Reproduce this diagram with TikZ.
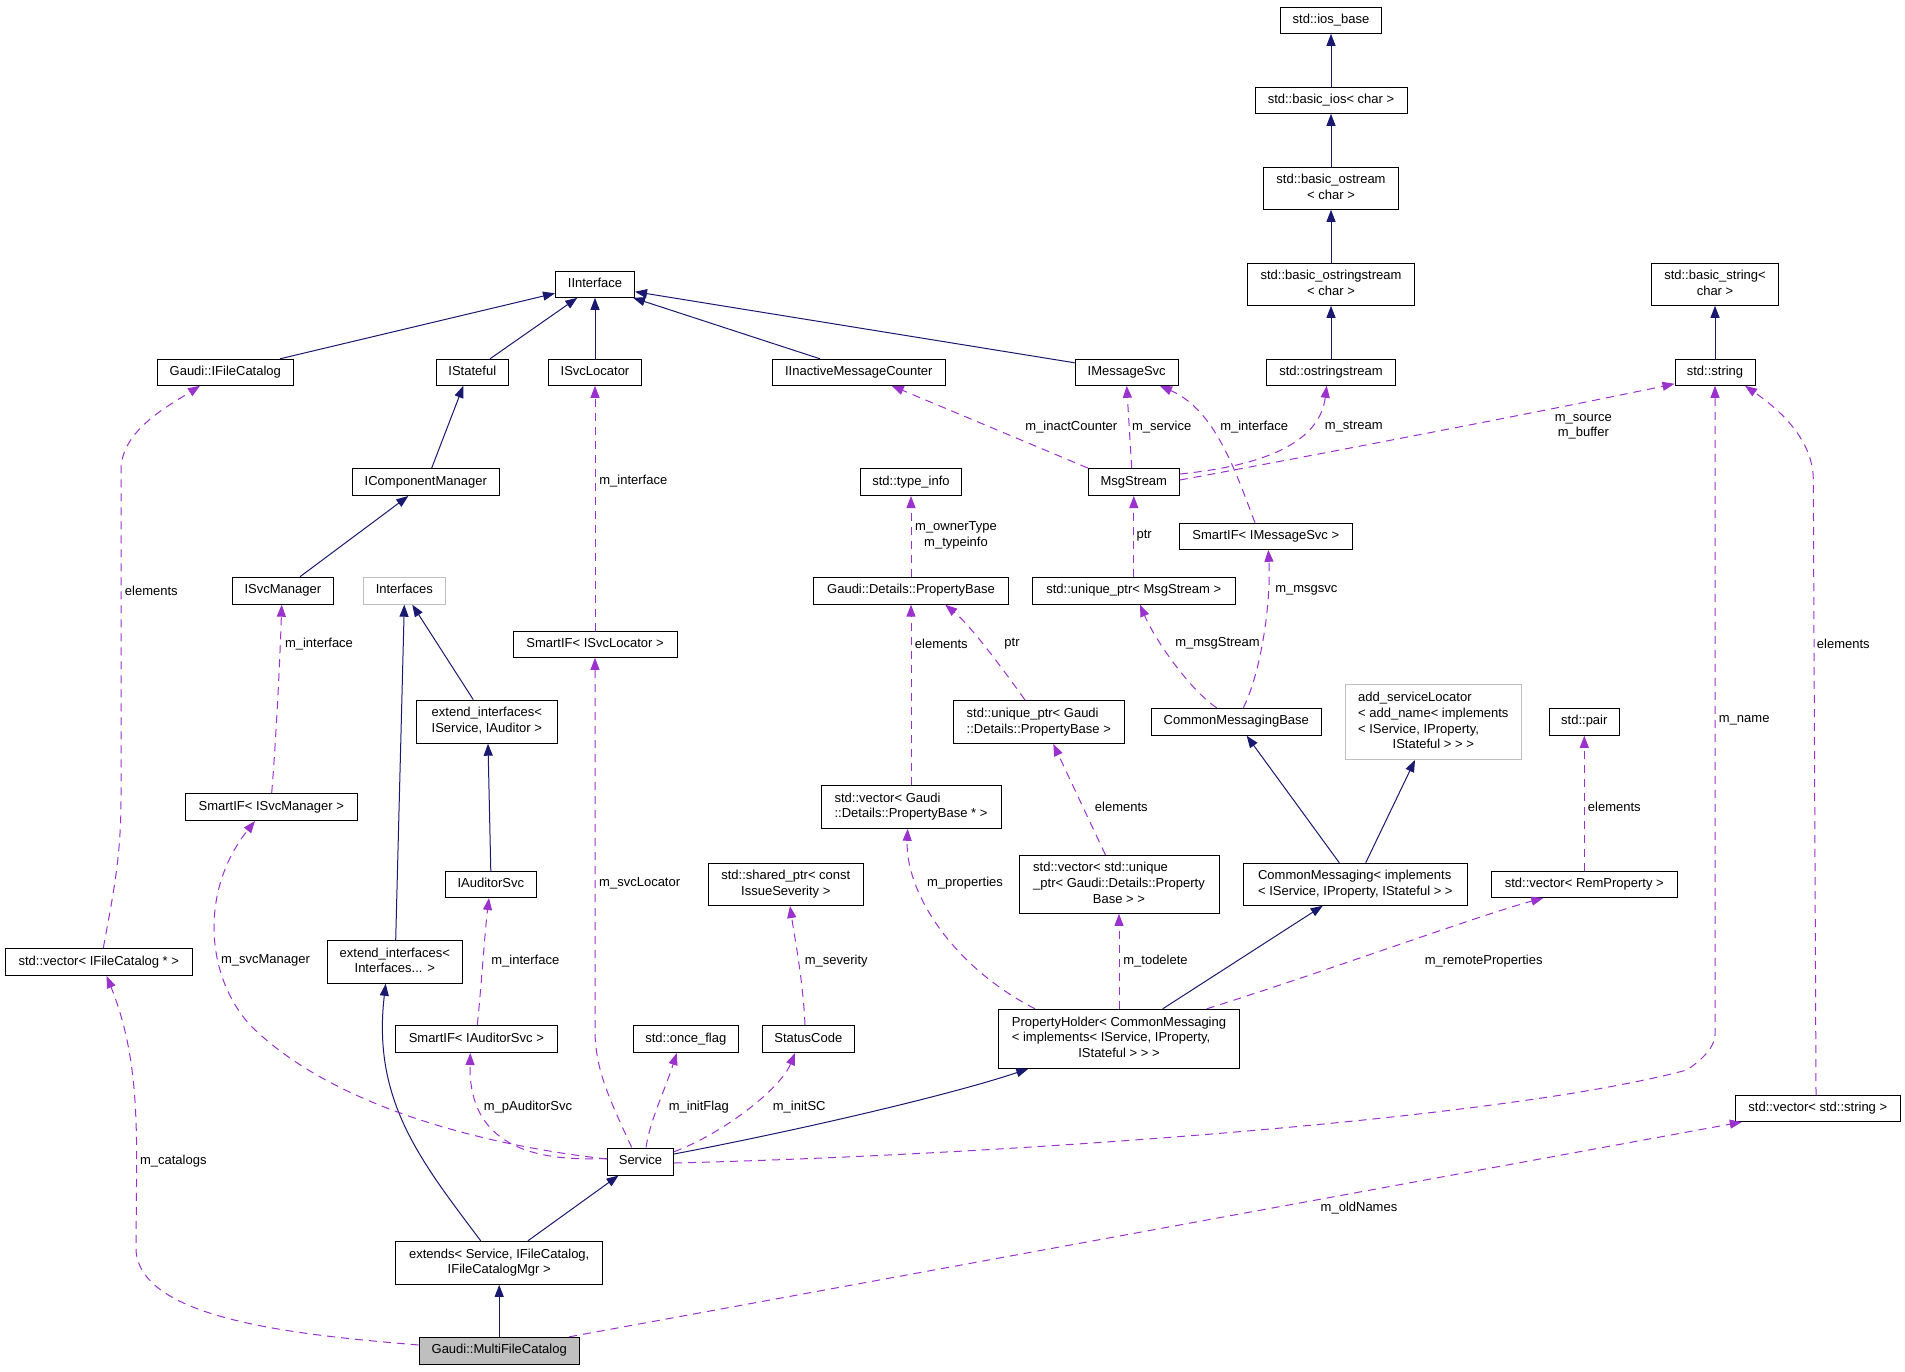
\documentclass[tikz,border=0pt]{standalone}
\usepackage{fontspec}
\setmainfont{Liberation Sans}
\usetikzlibrary{arrows.meta}
\definecolor{inhc}{HTML}{191970}
\definecolor{usec}{HTML}{9A32CD}
\definecolor{grayb}{HTML}{BFBFBF}
\newcommand{\lastc}[1]{\multicolumn{1}{@{}c@{}}{#1}}
\newcommand{\celltext}[1]{\begin{tabular}{@{}l@{}}#1\end{tabular}}
\newcommand{\nodefont}{\fontsize{13}{15.8}\selectfont}
\begin{document}
\begin{tikzpicture}[x=1pt,y=-1pt,
  box/.style={draw=black, line width=1pt, fill=white, inner sep=0pt, font=\nodefont},
  gbox/.style={box, draw=grayb},
  lbl/.style={inner sep=0pt, font=\nodefont, align=center},
  inh/.style={draw=inhc, line width=1pt, -{Triangle[length=12pt,width=9pt]}},
  use/.style={draw=usec, line width=1pt, dash pattern=on 8pt off 6pt, -{Triangle[length=12pt,width=9pt]}}]
\fill[white] (0,0) rectangle (1905,1371);
\useasboundingbox (0,0) rectangle (1905,1371);

% ---- nodes ----
\node[box, minimum width=101pt, minimum height=26pt] (iosb) at (1331,20.3) {\celltext{std::ios\_base}};
\node[box, minimum width=152pt, minimum height=26pt] (bios) at (1331,100.3) {\celltext{std::basic\_ios< char >}};
\node[box, minimum width=135pt, minimum height=42pt] (bost) at (1331,188.3) {\celltext{std::basic\_ostream\\\lastc{< char >}}};
\node[box, minimum width=167pt, minimum height=42pt] (bostr) at (1331,284.3) {\celltext{std::basic\_ostringstream\\\lastc{< char >}}};
\node[box, minimum width=129pt, minimum height=26pt] (ostr) at (1331,372.3) {\celltext{std::ostringstream}};
\node[box, minimum width=127pt, minimum height=42pt] (bstr) at (1715,284.3) {\celltext{std::basic\_string<\\\lastc{char >}}};
\node[box, minimum width=80pt, minimum height=26pt] (str) at (1715,372.3) {\celltext{std::string}};
\node[box, minimum width=79pt, minimum height=26pt] (iint) at (595,284.3) {\celltext{IInterface}};
\node[box, minimum width=136pt, minimum height=26pt] (ifc) at (225.3,372.3) {\celltext{Gaudi::IFileCatalog}};
\node[box, minimum width=72pt, minimum height=26pt] (ist) at (472.3,372.3) {\celltext{IStateful}};
\node[box, minimum width=93pt, minimum height=26pt] (isl) at (595,372.3) {\celltext{ISvcLocator}};
\node[box, minimum width=173pt, minimum height=26pt] (iimc) at (858.8,372.3) {\celltext{IInactiveMessageCounter}};
\node[box, minimum width=103pt, minimum height=26pt] (ims) at (1126.7,372.3) {\celltext{IMessageSvc}};
\node[box, minimum width=147pt, minimum height=27pt] (icm) at (425.8,482) {\celltext{IComponentManager}};
\node[box, minimum width=101pt, minimum height=27pt] (tinfo) at (911,482) {\celltext{std::type\_info}};
\node[box, minimum width=91pt, minimum height=27pt] (msgs) at (1133.8,482) {\celltext{MsgStream}};
\node[box, minimum width=173pt, minimum height=26pt] (sims) at (1265.8,536.3) {\celltext{SmartIF< IMessageSvc >}};
\node[box, minimum width=101pt, minimum height=27pt] (ism) at (282.8,590.7) {\celltext{ISvcManager}};
\node[gbox, minimum width=82pt, minimum height=27pt] (intf) at (404.3,590.7) {\celltext{Interfaces}};
\node[box, minimum width=195pt, minimum height=27pt] (pb) at (911,590.7) {\celltext{Gaudi::Details::PropertyBase}};
\node[box, minimum width=203pt, minimum height=27pt] (upms) at (1133.8,590.7) {\celltext{std::unique\_ptr< MsgStream >}};
\node[box, minimum width=164pt, minimum height=26pt] (sisl) at (595,644.3) {\celltext{SmartIF< ISvcLocator >}};
\node[box, minimum width=141pt, minimum height=43pt] (eia) at (486.8,721.7) {\celltext{extend\_interfaces<\\\lastc{IService, IAuditor >}}};
\node[box, minimum width=171pt, minimum height=43pt] (uppb) at (1038.8,722) {\celltext{std::unique\_ptr< Gaudi\\\lastc{::Details::PropertyBase >}}};
\node[box, minimum width=170pt, minimum height=27pt] (cmb) at (1236.3,721.8) {\celltext{CommonMessagingBase}};
\node[gbox, minimum width=176pt, minimum height=75pt] (asl) at (1433.3,722) {\celltext{add\_serviceLocator\\< add\_name< implements\\< IService, IProperty,\\\lastc{IStateful > > >}}};
\node[box, minimum width=70pt, minimum height=27pt] (pair) at (1584.3,721.8) {\celltext{std::pair}};
\node[box, minimum width=172pt, minimum height=27pt] (sism) at (271.3,807) {\celltext{SmartIF< ISvcManager >}};
\node[box, minimum width=180pt, minimum height=43pt] (vpb) at (911,806.8) {\celltext{std::vector< Gaudi\\\lastc{::Details::PropertyBase * >}}};
\node[box, minimum width=91pt, minimum height=26pt] (ias) at (490.8,884.5) {\celltext{IAuditorSvc}};
\node[box, minimum width=155pt, minimum height=42pt] (ssev) at (785.8,884.5) {\celltext{std::shared\_ptr< const\\\lastc{IssueSeverity >}}};
\node[box, minimum width=200pt, minimum height=58pt] (vup) at (1119,884.3) {\celltext{std::vector< std::unique\\\_ptr< Gaudi::Details::Property\\\lastc{Base > >}}};
\node[box, minimum width=224pt, minimum height=42pt] (cm) at (1355.3,884.3) {\celltext{CommonMessaging< implements\\\lastc{< IService, IProperty, IStateful > >}}};
\node[box, minimum width=186pt, minimum height=26pt] (vrp) at (1584.3,884.5) {\celltext{std::vector< RemProperty >}};
\node[box, minimum width=187pt, minimum height=27pt] (vfc) at (98.8,962) {\celltext{std::vector< IFileCatalog * >}};
\node[box, minimum width=135pt, minimum height=43pt] (eii) at (394.8,961.8) {\celltext{extend\_interfaces<\\\lastc{Interfaces... >}}};
\node[box, minimum width=162pt, minimum height=27pt] (sias) at (476.3,1039) {\celltext{SmartIF< IAuditorSvc >}};
\node[box, minimum width=105pt, minimum height=27pt] (once) at (685.8,1039) {\celltext{std::once\_flag}};
\node[box, minimum width=92pt, minimum height=27pt] (sc) at (808.3,1039) {\celltext{StatusCode}};
\node[box, minimum width=241pt, minimum height=59pt] (ph) at (1119,1038.8) {\celltext{PropertyHolder< CommonMessaging\\< implements< IService, IProperty,\\\lastc{IStateful > > >}}};
\node[box, minimum width=165pt, minimum height=26pt] (vs) at (1817.8,1108.5) {\celltext{std::vector< std::string >}};
\node[box, minimum width=66pt, minimum height=27pt] (svc) at (640.5,1161.5) {\celltext{Service}};
\node[box, minimum width=207pt, minimum height=43pt] (ext) at (499.2,1262.8) {\celltext{extends< Service, IFileCatalog,\\\lastc{IFileCatalogMgr >}}};
\node[box, fill=grayb, minimum width=160pt, minimum height=27pt] (mfc) at (499.2,1350.8) {\celltext{Gaudi::MultiFileCatalog}};

% ---- inheritance edges ----
\draw[inh] (bios.north) -- (iosb.south);
\draw[inh] (bost.north) -- (bios.south);
\draw[inh] (bostr.north) -- (bost.south);
\draw[inh] (ostr.north) -- (bostr.south);
\draw[inh] (str.north) -- (bstr.south);
\draw[inh] ([xshift=54.7pt]ifc.north) -- ([yshift=-9pt]iint.west);
\draw[inh] ([xshift=17.7pt]ist.north) -- ([xshift=-17.7pt]iint.south);
\draw[inh] (isl.north) -- (iint.south);
\draw[inh] ([xshift=-38.8pt]iimc.north) -- ([xshift=38pt]iint.south);
\draw[inh] ([yshift=9.5pt]ims.west) -- ([yshift=-7.4pt]iint.east);
\draw[inh] ([xshift=5.9pt]icm.north) -- ([xshift=-9pt]ist.south);
\draw[inh] ([xshift=17.2pt]ism.north) -- ([xshift=-17.5pt]icm.south);
\draw[inh] ([xshift=-13.5pt]eia.north) -- ([xshift=8pt]intf.south);
\draw[inh] ([xshift=0.9pt]eii.north) -- (intf.south);
\draw[inh] (ias.north) -- ([xshift=1.2pt]eia.south);
\draw[inh] ([xshift=-18.5pt]ext.north) .. controls (420,1160) and (372,1100) .. ([xshift=-9.1pt]eii.south);
\draw[inh] ([xshift=28.7pt]ext.north) -- ([xshift=-22pt]svc.south);
\draw[inh] (mfc.north) -- (ext.south);
\draw[inh] ([yshift=7.5pt]svc.east) .. controls (800,1130) and (950,1095) .. ([xshift=-90.7pt]ph.south);
\draw[inh] ([xshift=43.7pt]ph.north) -- ([xshift=-32.6pt]cm.south);
\draw[inh] ([xshift=-16pt]cm.north) -- ([xshift=10.4pt]cmb.south);
\draw[inh] ([xshift=10.4pt]cm.north) -- ([xshift=-18.3pt]asl.south);

% ---- usage edges ----
\draw[use] ([xshift=4.5pt]vfc.north) .. controls (112,900) and (121,860) .. (121,800) -- (121,470) .. controls (121,430) and (170,405) .. ([xshift=-25.3pt]ifc.south);
\draw[use] ([xshift=0.4pt]sism.north) .. controls (276,740) and (280,660) .. ([xshift=-1.1pt]ism.south);
\draw[use] ([yshift=2.5pt]svc.west) .. controls (480,1145) and (330,1105) .. (250,1025) .. controls (205,975) and (200,890) .. ([xshift=-16.3pt]sism.south);
\draw[use] (sisl.north) -- (isl.south);
\draw[use] ([xshift=-8.8pt]svc.north) .. controls (610,1100) and (595,1070) .. (595,1030) -- (sisl.south);
\draw[use] ([xshift=1pt]sias.north) .. controls (481,990) and (485,930) .. ([xshift=-1.8pt]ias.south);
\draw[use] ([yshift=3pt]svc.west) .. controls (560,1160) and (468,1160) .. ([xshift=-6pt]sias.south);
\draw[use] ([xshift=5.5pt]svc.north) .. controls (650,1120) and (665,1090) .. ([xshift=-9.1pt]once.south);
\draw[use] ([yshift=9.8pt]svc.east) .. controls (720,1135) and (780,1090) .. ([xshift=-13.3pt]sc.south);
\draw[use] ([xshift=-3.3pt]sc.north) .. controls (803,980) and (795,940) .. ([xshift=4.2pt]ssev.south);
\draw[use] ([yshift=-1.5pt]svc.east) .. controls (1000,1155) and (1500,1120) .. (1686.7,1070) .. controls (1705,1058) and (1715,1045) .. (1715,1035) -- (str.south);
\draw[use] ([xshift=-1.8pt]vs.north) -- (1813.3,480) .. controls (1813.3,440) and (1780,410) .. ([xshift=30pt]str.south);
\draw[use] ([yshift=2pt]msgs.east) .. controls (1300,458) and (1550,410) .. ([yshift=-11.5pt]str.west);
\draw[use] (msgs.north west) -- ([xshift=32.9pt]iimc.south);
\draw[use] ([xshift=-2.1pt]msgs.north) -- (ims.south);
\draw[use] ([xshift=-10.8pt]sims.north) .. controls (1235,470) and (1215,410) .. ([xshift=33.3pt]ims.south);
\draw[use] ([yshift=8pt]msgs.east) .. controls (1270,465) and (1320,440) .. ([xshift=-4.3pt]ostr.south);
\draw[use] (pb.north) -- (tinfo.south);
\draw[use] (upms.north) -- (msgs.south);
\draw[use] ([xshift=-19.6pt]cmb.north) .. controls (1190,690) and (1155,640) .. ([xshift=6.2pt]upms.south);
\draw[use] ([xshift=7pt]cmb.north) .. controls (1262,670) and (1271,600) .. ([xshift=2.5pt]sims.south);
\draw[use] (vpb.north) -- (pb.south);
\draw[use] ([xshift=-13.8pt]uppb.north) .. controls (1000,665) and (970,625) .. ([xshift=34.2pt]pb.south);
\draw[use] ([xshift=-13.6pt]vup.north) -- ([xshift=14.5pt]uppb.south);
\draw[use] ([xshift=-84pt]ph.north) .. controls (950,965) and (905,890) .. ([xshift=-3.3pt]vpb.south);
\draw[use] (ph.north) -- (vup.south);
\draw[use] ([xshift=87.7pt]ph.north) .. controls (1330,970) and (1480,915) .. ([xshift=-41pt]vrp.south);
\draw[use] (vrp.north) -- (pair.south);
\draw[use] ([yshift=5.8pt]mfc.west) .. controls (300,1335) and (140,1320) .. (136,1250) -- (136.7,1160) .. controls (136.5,1090) and (132,1040) .. ([xshift=7.9pt]vfc.south);
\draw[use] ([xshift=70pt]mfc.north) -- ([xshift=-76pt]vs.south);

% ---- labels ----
\node[lbl] (l1) at (151.3,590.7) {elements};
\node[lbl] (l2) at (319,643.7) {m\_interface};
\node[lbl] (l3) at (265.5,960.7) {m\_svcManager};
\node[lbl] (l4) at (633.3,480.7) {m\_interface};
\node[lbl] (l5) at (639.7,883.3) {m\_svcLocator};
\node[lbl] (l6) at (525.3,960.7) {m\_interface};
\node[lbl] (l7) at (528,1107.3) {m\_pAuditorSvc};
\node[lbl] (l8) at (698.8,1107.3) {m\_initFlag};
\node[lbl] (l9) at (799.2,1107.3) {m\_initSC};
\node[lbl] (l10) at (836.3,960.7) {m\_severity};
\node[lbl] (l11) at (1744.2,720.7) {m\_name};
\node[lbl] (l12) at (1843.3,643.7) {elements};
\node[lbl] (l13) at (1583.3,426.7) {m\_source\\m\_buffer};
\node[lbl] (l14) at (1071.3,426.7) {m\_inactCounter};
\node[lbl] (l15) at (1161.7,426.7) {m\_service};
\node[lbl] (l16) at (1254.2,426.7) {m\_interface};
\node[lbl] (l17) at (1353.8,426.7) {m\_stream};
\node[lbl] (l18) at (956,535.7) {m\_ownerType\\m\_typeinfo};
\node[lbl] (l19) at (1144.2,535.7) {ptr};
\node[lbl] (l20) at (1217.5,643.7) {m\_msgStream};
\node[lbl] (l21) at (1306.3,590.7) {m\_msgsvc};
\node[lbl] (l22) at (941.3,643.7) {elements};
\node[lbl] (l23) at (1012,643.7) {ptr};
\node[lbl] (l24) at (1121.3,806.7) {elements};
\node[lbl] (l25) at (965,883.3) {m\_properties};
\node[lbl] (l26) at (1155.5,960.7) {m\_todelete};
\node[lbl] (l27) at (1483.7,960.7) {m\_remoteProperties};
\node[lbl] (l28) at (1614.3,806.7) {elements};
\node[lbl] (l29) at (173.3,1161) {m\_catalogs};
\node[lbl] (l30) at (1359,1207.7) {m\_oldNames};
\end{tikzpicture}
\end{document}
